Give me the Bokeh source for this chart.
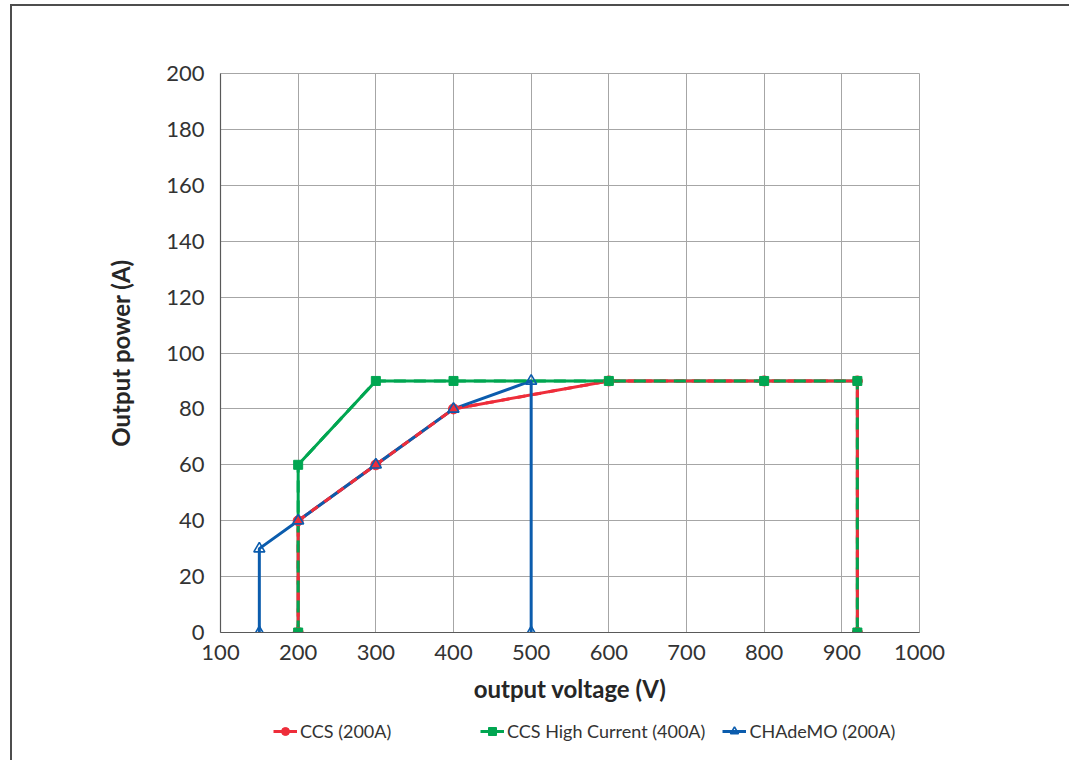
from bokeh.plotting import figure
from bokeh.models import (Range1d, FixedTicker, Legend, LegendItem)
from bokeh.layouts import column
from bokeh.embed import file_html
from bokeh.resources import INLINE

# ---- data ----
ccs_v = [200, 200, 300, 400, 600, 800, 920, 920]
ccs_p = [0, 40, 60, 80, 90, 90, 90, 0]
hc_v = [200, 200, 300, 400, 600, 800, 920, 920]
hc_p = [0, 60, 90, 90, 90, 90, 90, 0]
cha_v = [150, 150, 200, 300, 400, 500, 500]
cha_p = [0, 30, 40, 60, 80, 90, 0]
x_ticks = [100, 200, 300, 400, 500, 600, 700, 800, 900, 1000]
y_ticks = [0, 20, 40, 60, 80, 100, 120, 140, 160, 180, 200]
names = ["CCS (200A)", "CCS High Current (400A)", "CHAdeMO (200A)"]

RED = "#ee2d3a"
GREEN = "#00a651"
BLUE = "#0b5cad"
FONT = "Lato"
LW = 3

W = 1057
p = figure(width=W, height=706, output_backend="svg", toolbar_location=None,
           x_range=Range1d(100, 1000), y_range=Range1d(0, 200),
           min_border_left=208, min_border_right=150,
           min_border_top=67, min_border_bottom=80)

p.outline_line_color = "#a6a6a6"
p.outline_line_width = 1
p.xgrid.grid_line_color = "#a6a6a6"
p.ygrid.grid_line_color = "#a6a6a6"

for ax in (p.xaxis[0], p.yaxis[0]):
    ax.major_tick_line_color = None
    ax.minor_tick_line_color = None
    ax.axis_line_color = "#595959"
    ax.axis_line_width = 1.2
    ax.major_label_text_font = FONT
    ax.major_label_text_font_size = "22px"
    ax.major_label_text_color = "#333333"
    ax.axis_label_text_font = FONT
    ax.axis_label_text_font_size = "24px"
    ax.axis_label_text_font_style = "bold"
    ax.axis_label_text_color = "#262626"

p.xaxis.ticker = FixedTicker(ticks=x_ticks)
p.yaxis.ticker = FixedTicker(ticks=y_ticks)
p.xaxis.major_label_standoff = 6
p.yaxis.major_label_standoff = 10
p.xaxis.axis_label = "output voltage (V)"
p.yaxis.axis_label = "Output power (A)"
p.xaxis.axis_label_standoff = 11
p.yaxis.axis_label_standoff = 28


def draw_series(fig):
    g_line = fig.line(hc_v, hc_p, line_color=GREEN, line_width=LW)
    r_line = fig.line(ccs_v, ccs_p, line_color=RED, line_width=LW)
    b_line = fig.line(cha_v, cha_p, line_color=BLUE, line_width=LW)
    fig.line(ccs_v, ccs_p, line_color=RED, line_width=LW, line_dash="8 8")
    fig.line(hc_v, hc_p, line_color=GREEN, line_width=LW, line_dash="12 8")
    r_m = fig.scatter(ccs_v, ccs_p, marker="circle", size=10, fill_color=RED, line_color=RED)
    g_m = fig.scatter(hc_v, hc_p, marker="square", size=9, fill_color=GREEN, line_color=GREEN)
    b_m = fig.scatter(cha_v, cha_p, marker="triangle", size=11, fill_alpha=0,
                      line_color=BLUE, line_width=1.6)
    return [(r_line, r_m), (g_line, g_m), (b_line, b_m)]


draw_series(p)

# legend strip below the chart (same series, legend only; data lies outside its view)
q = figure(width=W, height=48, output_backend="svg", toolbar_location=None,
           x_range=Range1d(-10, -9), y_range=Range1d(-10, -9),
           min_border_left=0, min_border_right=0, min_border_top=0, min_border_bottom=0)
q.axis.visible = False
q.grid.visible = False
q.outline_line_color = None
renders = draw_series(q)
items = [LegendItem(label=n, renderers=list(rr)) for n, rr in zip(names, renders)]
lg = Legend(items=items, location=(53, 18), orientation="horizontal",
            background_fill_alpha=0, border_line_color=None,
            padding=0, margin=0, spacing=17, label_width=163,
            glyph_width=24, glyph_height=20, label_standoff=3,
            label_text_font=FONT, label_text_font_size="18px",
            label_text_color="#333333")
q.add_layout(lg)

layout = column(p, q, spacing=0,
                styles={"margin-left": "10px", "margin-top": "4px",
                        "border-left": "2px solid #4d4d4d",
                        "border-top": "2px solid #4d4d4d"})

open("out.html", "w").write(file_html(layout, INLINE))
